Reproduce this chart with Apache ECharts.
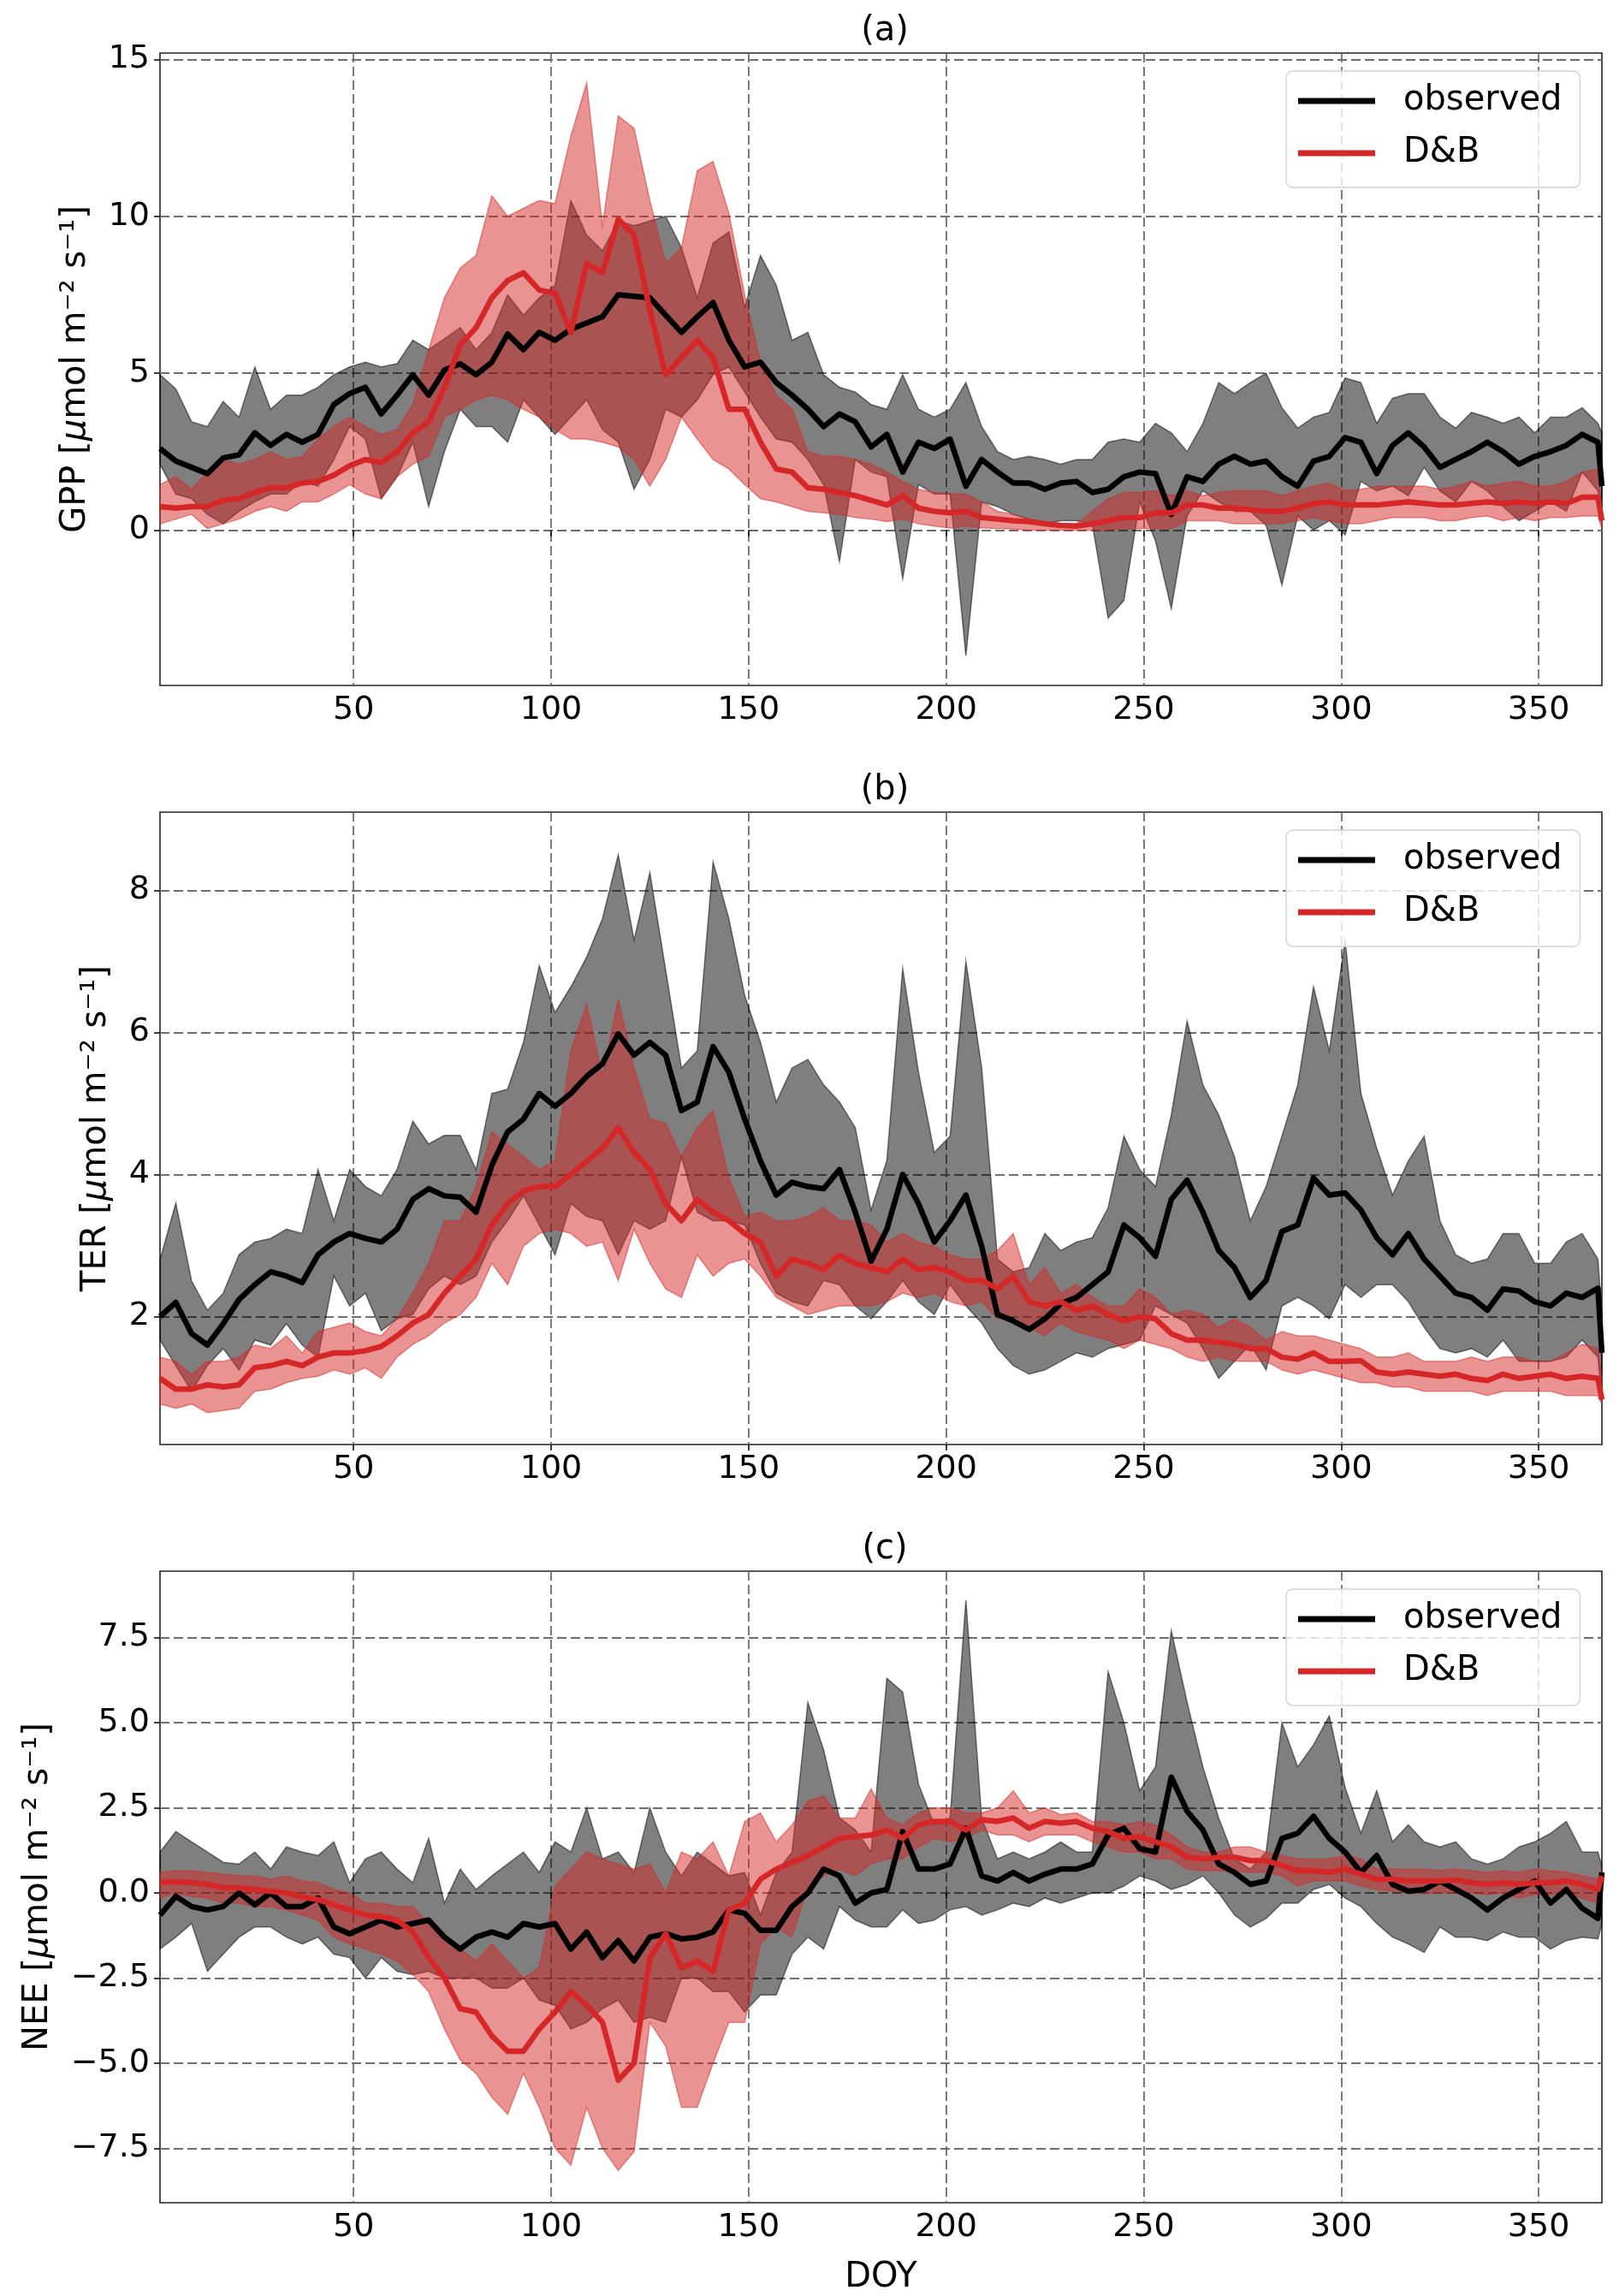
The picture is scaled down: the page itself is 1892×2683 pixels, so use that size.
<!DOCTYPE html>
<html>
<head>
<meta charset="utf-8">
<script src="https://cdn.jsdelivr.net/npm/echarts@6/dist/echarts.min.js"></script>
<style>
html, body { margin: 0; padding: 0; background: #fff; }
#chart { width: 1892px; height: 2683px; }
</style>
</head>
<body>
<div id="chart"></div>
<script>
// day of year (sampled every 4 days)
var doy = [1, 5, 9, 13, 17, 21, 25, 29, 33, 37,
    41, 45, 49, 53, 57, 61, 65, 69, 73, 77,
    81, 85, 89, 93, 97, 101, 105, 109, 113, 117,
    121, 125, 129, 133, 137, 141, 145, 149, 153, 157,
    161, 165, 169, 173, 177, 181, 185, 189, 193, 197,
    201, 205, 209, 213, 217, 221, 225, 229, 233, 237,
    241, 245, 249, 253, 257, 261, 265, 269, 273, 277,
    281, 285, 289, 293, 297, 301, 305, 309, 313, 317,
    321, 325, 329, 333, 337, 341, 345, 349, 353, 357,
    361, 365, 366];

// (a) GPP
var gppObs = [2.6, 2.2, 2.0, 1.8, 2.3, 2.4, 3.1, 2.7, 3.05, 2.8,
    3.05, 4.0, 4.35, 4.55, 3.7, 4.3, 4.95, 4.3, 5.1, 5.3,
    4.95, 5.35, 6.25, 5.75, 6.3, 6.05, 6.4, 6.6, 6.8, 7.5,
    7.45, 7.4, 6.85, 6.3, 6.8, 7.25, 6.05, 5.2, 5.35, 4.7,
    4.3, 3.85, 3.3, 3.7, 3.45, 2.65, 3.05, 1.85, 2.8, 2.6,
    2.9, 1.4, 2.25, 1.85, 1.5, 1.5, 1.3, 1.5, 1.55, 1.2,
    1.3, 1.7, 1.85, 1.8, 0.5, 1.7, 1.55, 2.1, 2.35, 2.1,
    2.2, 1.7, 1.4, 2.2, 2.35, 2.95, 2.8, 1.8, 2.7, 3.1,
    2.65, 2.0, 2.25, 2.5, 2.8, 2.5, 2.1, 2.35, 2.5, 2.7,
    3.05, 2.8, 1.4];
var gppObsHi = [4.95, 4.5, 3.45, 3.3, 4.1, 3.6, 5.2, 3.85, 4.3, 4.3,
    4.55, 4.95, 5.2, 5.35, 5.2, 5.3, 6.05, 5.75, 6.1, 6.45,
    5.75, 6.3, 7.5, 6.85, 7.4, 7.8, 10.5, 9.4, 8.9, 9.85,
    9.7, 9.85, 10.0, 9.0, 7.4, 9.15, 9.5, 7.1, 8.75, 7.8,
    6.05, 6.3, 4.95, 4.55, 4.4, 4.0, 3.85, 4.95, 3.85, 3.6,
    3.85, 4.7, 3.3, 2.5, 2.25, 2.35, 2.25, 2.1, 2.25, 2.25,
    2.8, 2.9, 2.8, 3.4, 3.1, 2.5, 3.4, 4.7, 4.35, 4.7,
    5.0, 3.9, 3.25, 3.6, 3.75, 4.85, 4.7, 3.4, 4.2, 4.35,
    4.35, 3.6, 3.25, 3.75, 3.6, 3.4, 3.6, 3.1, 3.6, 3.6,
    3.9, 3.4, 3.1];
var gppObsLo = [2.1, 1.15, 1.0, 0.5, 0.2, 0.6, 0.9, 1.15, 1.15, 1.55,
    1.4, 2.25, 3.3, 2.9, 1.0, 1.7, 2.8, 0.75, 2.5, 3.85,
    3.3, 3.3, 2.8, 4.15, 3.6, 3.05, 3.6, 4.15, 3.2, 2.8,
    1.3, 2.25, 3.85, 3.6, 4.15, 4.95, 5.2, 4.4, 3.6, 2.9,
    2.8, 2.25, 1.45, -1.0, 2.25, 1.85, 1.7, -1.55, 1.45, 1.15,
    1.15, -4.0, 0.9, 0.75, 0.5, 0.35, 0.2, 0.3, 0.3, 0.2,
    -2.8, -2.25, 0.9, -0.35, -2.5, 0.45, 1.25, 0.9, 0.6, 0.6,
    0.15, -1.75, 0.45, 0.0, 0.3, -0.15, 1.55, 1.25, 1.4, 1.1,
    2.0, 1.25, 0.9, 1.55, 1.25, 0.75, 0.3, 0.6, 0.9, 0.6,
    1.85, 1.25, 0.3];
var gppDB = [0.75, 0.7, 0.75, 0.75, 0.95, 1.0, 1.2, 1.35, 1.35, 1.5,
    1.55, 1.75, 2.05, 2.25, 2.15, 2.5, 3.1, 3.45, 4.55, 5.9,
    6.45, 7.4, 7.95, 8.2, 7.65, 7.55, 6.3, 8.5, 8.2, 9.9,
    9.4, 7.0, 4.95, 5.5, 6.05, 5.5, 3.85, 3.85, 2.8, 1.95,
    1.85, 1.35, 1.3, 1.2, 1.1, 0.95, 0.8, 1.1, 0.7, 0.6,
    0.55, 0.6, 0.4, 0.35, 0.3, 0.27, 0.2, 0.15, 0.13, 0.2,
    0.3, 0.4, 0.4, 0.55, 0.55, 0.8, 0.8, 0.7, 0.7, 0.65,
    0.6, 0.6, 0.7, 0.85, 0.9, 0.8, 0.8, 0.8, 0.85, 0.9,
    0.85, 0.8, 0.8, 0.85, 0.9, 0.85, 0.9, 0.85, 0.9, 0.85,
    1.05, 1.05, 0.3];
var gppDBHi = [1.45, 1.7, 1.3, 1.85, 2.25, 2.1, 2.25, 2.5, 2.25, 2.35,
    2.9, 3.3, 3.6, 3.3, 3.05, 3.2, 4.0, 5.75, 7.4, 8.35,
    8.75, 10.65, 10.0, 10.25, 10.5, 10.4, 12.55, 14.25, 9.7, 13.2,
    12.8, 10.5, 8.5, 9.0, 11.45, 11.75, 10.1, 7.5, 5.35, 4.3,
    3.85, 2.5, 2.35, 2.35, 2.25, 2.1, 1.85, 1.55, 1.3, 1.2,
    1.15, 1.15, 0.9, 0.6, 0.5, 0.35, 0.27, 0.2, 0.2, 0.6,
    1.0, 1.2, 1.2, 1.25, 1.1, 1.25, 1.1, 1.2, 1.25, 1.25,
    1.25, 1.1, 1.25, 1.4, 1.5, 1.25, 1.3, 1.4, 1.4, 1.4,
    1.4, 1.3, 1.4, 1.55, 1.4, 1.5, 1.55, 1.4, 1.4, 1.55,
    1.85, 1.95, 0.6];
var gppDBLo = [0.2, 0.35, 0.5, 0.05, 0.2, 0.35, 0.6, 0.75, 0.6, 0.9,
    0.9, 1.15, 1.45, 1.15, 1.0, 1.7, 2.1, 2.35, 3.6, 3.85,
    4.15, 4.3, 4.15, 3.85, 3.6, 3.2, 2.9, 2.9, 2.8, 2.65,
    2.25, 1.4, 2.25, 3.6, 2.9, 2.25, 1.95, 1.45, 1.0, 0.9,
    0.75, 0.6, 0.55, 0.5, 0.4, 0.35, 0.27, 0.35, 0.2, 0.13,
    0.07, 0.13, 0.07, 0.05, 0.03, 0.0, 0.0, 0.0, 0.0, 0.0,
    0.0, 0.05, 0.05, 0.05, 0.05, 0.3, 0.3, 0.3, 0.2, 0.2,
    0.2, 0.2, 0.3, 0.4, 0.3, 0.2, 0.2, 0.3, 0.4, 0.4,
    0.4, 0.3, 0.3, 0.4, 0.45, 0.3, 0.4, 0.3, 0.4, 0.4,
    0.45, 0.45, 0.05];

// (b) TER
var terObs = [2.0, 2.2, 1.76, 1.6, 1.9, 2.24, 2.45, 2.63, 2.57, 2.48,
    2.87, 3.05, 3.17, 3.1, 3.05, 3.23, 3.65, 3.8, 3.7, 3.68,
    3.47, 4.13, 4.6, 4.78, 5.14, 4.96, 5.14, 5.38, 5.56, 5.98,
    5.68, 5.86, 5.68, 4.9, 5.02, 5.8, 5.44, 4.78, 4.19, 3.71,
    3.89, 3.83, 3.8, 4.07, 3.47, 2.78, 3.23, 4.0, 3.59, 3.05,
    3.35, 3.71, 2.99, 2.03, 1.94, 1.82, 1.97, 2.18, 2.27, 2.45,
    2.63, 3.29, 3.11, 2.85, 3.65, 3.92, 3.47, 2.93, 2.69, 2.27,
    2.51, 3.2, 3.29, 3.95, 3.71, 3.74, 3.5, 3.11, 2.87, 3.17,
    2.81, 2.57, 2.33, 2.27, 2.09, 2.39, 2.36, 2.21, 2.15, 2.33,
    2.27, 2.4, 1.49];
var terObsHi = [2.8, 3.6, 2.5, 2.09, 2.33, 2.87, 3.05, 3.1, 3.23, 3.17,
    4.07, 3.35, 4.07, 3.83, 3.7, 4.07, 4.75, 4.43, 4.55, 4.55,
    4.07, 5.14, 5.2, 5.86, 6.94, 6.28, 6.64, 7.06, 7.6, 8.5,
    7.3, 8.25, 6.88, 5.5, 5.74, 8.4, 7.6, 6.52, 5.86, 5.02,
    5.5, 5.62, 5.26, 5.02, 4.66, 3.5, 4.2, 6.9, 5.44, 4.31,
    4.54, 7.0, 5.5, 2.81, 2.63, 2.69, 3.17, 2.93, 3.05, 3.11,
    3.53, 4.54, 4.07, 3.83, 4.84, 6.16, 5.26, 4.84, 4.25, 3.35,
    3.83, 4.54, 5.26, 6.64, 5.74, 7.3, 5.14, 4.37, 3.71, 4.19,
    4.54, 3.35, 2.87, 2.75, 2.81, 3.17, 3.17, 2.75, 2.75, 3.05,
    3.17, 2.81, 2.03];
var terObsLo = [1.67, 1.31, 0.95, 1.31, 1.55, 1.25, 1.67, 1.6, 1.9, 1.6,
    1.43, 2.57, 2.15, 2.33, 1.8, 1.97, 2.03, 2.39, 2.57, 2.45,
    2.57, 3.05, 3.35, 3.7, 3.29, 2.87, 3.59, 3.41, 3.35, 2.87,
    3.35, 3.23, 3.35, 4.25, 3.47, 3.35, 3.35, 3.29, 2.75, 2.33,
    2.21, 2.15, 2.51, 2.45, 2.15, 1.97, 2.21, 2.51, 2.21, 2.03,
    2.45, 2.15, 1.91, 1.55, 1.31, 1.19, 1.25, 1.37, 1.49, 1.43,
    1.55, 1.61, 1.67, 2.15, 2.03, 1.91, 1.55, 1.13, 1.37, 1.61,
    1.25, 2.15, 2.27, 2.15, 1.97, 2.45, 2.27, 2.45, 2.45, 2.21,
    1.85, 1.55, 1.49, 1.55, 1.43, 1.67, 1.37, 1.37, 1.37, 1.43,
    1.67, 1.43, 0.83];
var terDB = [1.13, 0.98, 0.98, 1.04, 1.01, 1.04, 1.28, 1.31, 1.37, 1.31,
    1.43, 1.49, 1.49, 1.52, 1.58, 1.73, 1.91, 2.03, 2.33, 2.57,
    2.81, 3.29, 3.59, 3.77, 3.83, 3.83, 4.0, 4.19, 4.37, 4.66,
    4.31, 4.07, 3.59, 3.35, 3.65, 3.47, 3.35, 3.17, 3.05, 2.57,
    2.81, 2.75, 2.66, 2.87, 2.75, 2.69, 2.63, 2.81, 2.66, 2.69,
    2.63, 2.51, 2.51, 2.39, 2.57, 2.21, 2.15, 2.21, 2.09, 2.15,
    2.03, 1.94, 2.0, 1.97, 1.76, 1.67, 1.67, 1.64, 1.61, 1.55,
    1.55, 1.43, 1.4, 1.49, 1.37, 1.37, 1.38, 1.22, 1.19, 1.22,
    1.19, 1.16, 1.19, 1.13, 1.1, 1.19, 1.13, 1.16, 1.19, 1.13,
    1.16, 1.13, 0.83];
var terDBHi = [1.43, 1.37, 1.19, 1.37, 1.37, 1.43, 1.6, 1.55, 1.73, 1.49,
    1.79, 1.85, 1.91, 1.79, 1.73, 1.97, 2.33, 2.75, 3.35, 3.35,
    3.83, 4.6, 4.43, 4.25, 4.07, 4.19, 5.74, 6.4, 5.38, 6.46,
    5.5, 4.78, 4.72, 4.25, 4.66, 4.9, 3.95, 3.41, 3.47, 3.35,
    3.35, 3.41, 3.53, 3.35, 3.35, 3.29, 3.05, 3.17, 3.05, 2.99,
    2.87, 2.81, 2.81, 2.93, 3.17, 2.45, 2.69, 2.33, 2.45, 2.27,
    2.15, 2.15, 2.39, 2.27, 2.03, 2.09, 2.03, 1.85, 1.97, 1.85,
    1.67, 1.79, 1.73, 1.73, 1.67, 1.61, 1.55, 1.43, 1.43, 1.49,
    1.37, 1.37, 1.37, 1.43, 1.37, 1.43, 1.43, 1.37, 1.37, 1.49,
    1.61, 1.55, 1.13];
var terDBLo = [0.77, 0.71, 0.77, 0.65, 0.68, 0.71, 0.95, 0.98, 1.07, 1.13,
    1.16, 1.25, 1.19, 1.28, 1.13, 1.43, 1.61, 1.73, 1.91, 2.03,
    2.27, 2.75, 2.45, 2.99, 3.17, 3.23, 3.17, 2.99, 3.05, 2.51,
    3.23, 2.75, 2.39, 2.27, 2.87, 2.57, 2.75, 2.81, 2.57, 2.27,
    2.15, 2.03, 2.09, 2.15, 2.15, 2.15, 2.21, 2.33, 2.27, 2.33,
    2.21, 2.15, 2.21, 1.97, 2.03, 1.85, 1.73, 1.91, 1.79, 1.73,
    1.67, 1.55, 1.67, 1.61, 1.55, 1.43, 1.37, 1.43, 1.37, 1.37,
    1.37, 1.25, 1.19, 1.25, 1.19, 1.13, 1.07, 1.07, 1.01, 1.01,
    0.95, 0.95, 0.95, 0.95, 0.89, 0.95, 0.95, 0.95, 0.95, 0.89,
    0.89, 0.89, 0.77];

// (c) NEE
var neeObs = [-0.65, -0.1, -0.4, -0.5, -0.4, 0.0, -0.35, 0.0, -0.4, -0.4,
    -0.15, -1.0, -1.2, -1.0, -0.8, -1.0, -0.9, -0.8, -1.3, -1.65,
    -1.3, -1.15, -1.3, -0.9, -1.0, -0.9, -1.65, -1.15, -1.9, -1.4,
    -2.0, -1.3, -1.2, -1.35, -1.3, -1.15, -0.5, -0.6, -1.1, -1.1,
    -0.4, 0.0, 0.7, 0.5, -0.3, 0.0, 0.1, 1.8, 0.7, 0.7,
    0.85, 1.9, 0.5, 0.35, 0.6, 0.35, 0.55, 0.7, 0.7, 0.85,
    1.7, 1.9, 1.3, 1.2, 3.4, 2.4, 1.85, 0.85, 0.6, 0.25,
    0.35, 1.6, 1.75, 2.25, 1.6, 1.2, 0.6, 1.1, 0.25, 0.05,
    0.1, 0.35, 0.1, -0.15, -0.5, -0.15, 0.1, 0.35, -0.3, 0.1,
    -0.45, -0.75, 0.6];
var neeObsHi = [1.2, 1.8, 1.5, 1.2, 0.9, 0.85, 1.2, 0.7, 1.35, 1.2,
    1.1, 1.5, 0.3, 1.0, 1.2, 0.7, 0.3, 1.6, -0.3, 0.7,
    0.1, 0.5, 0.85, 1.2, 0.6, 1.5, 1.2, 2.5, 1.0, 1.2,
    0.6, 2.5, 1.2, 0.5, 1.2, 0.85, 0.5, 0.6, -0.65, 0.6,
    1.2, 5.6, 4.2, 2.2, 1.85, 1.2, 6.3, 5.9, 3.2, 2.0,
    2.2, 8.6, 2.2, 1.0, 1.2, 1.0, 1.2, 1.5, 1.2, 1.2,
    6.5, 5.0, 3.0, 3.7, 7.7, 5.6, 3.7, 2.2, 1.0, 0.7,
    1.2, 5.0, 3.7, 4.35, 5.2, 3.1, 1.75, 3.0, 1.5, 2.0,
    1.5, 1.35, 1.5, 1.0, 0.85, 1.0, 1.35, 1.5, 1.75, 2.1,
    1.2, 1.2, 0.8];
var neeObsLo = [-1.65, -1.3, -0.9, -2.3, -1.8, -1.3, -1.0, -1.0, -1.3, -1.5,
    -1.3, -1.8, -1.9, -2.5, -1.9, -2.3, -2.4, -2.3, -2.5, -2.5,
    -2.5, -2.8, -2.8, -2.5, -3.15, -3.3, -4.0, -3.8, -3.4, -3.15,
    -3.8, -3.65, -3.8, -2.5, -2.5, -2.9, -2.9, -3.5, -3.0, -3.0,
    -1.8, -1.3, -1.65, -0.4, -0.8, -1.0, -1.0, -0.5, -0.9, -0.8,
    -0.5, -0.4, -0.65, -0.5, -0.3, -0.4, -0.15, -0.3, -0.15, 0.0,
    0.0, 0.2, 0.5, 0.35, 0.1, 0.25, 0.5, 0.0, -0.65, -1.0,
    -0.75, -0.3, -0.3, 0.1, 0.25, -0.15, -0.4, -0.9, -1.3, -1.5,
    -1.75, -1.0, -1.3, -1.3, -1.4, -1.15, -1.3, -1.3, -1.65, -1.4,
    -1.3, -1.35, -0.9];
var neeDB = [0.3, 0.33, 0.3, 0.25, 0.15, 0.15, 0.1, 0.05, 0.0, -0.12,
    -0.2, -0.35, -0.5, -0.65, -0.7, -0.8, -1.15, -1.9, -2.5, -3.4,
    -3.5, -4.2, -4.65, -4.65, -4.0, -3.5, -2.9, -3.3, -3.8, -5.5,
    -5.0, -1.9, -1.2, -2.2, -2.0, -2.3, -0.5, -0.3, 0.4, 0.7,
    0.9, 1.1, 1.35, 1.6, 1.65, 1.7, 1.85, 1.6, 2.0, 2.1,
    2.1, 1.85, 2.15, 2.1, 2.2, 1.9, 2.1, 2.05, 2.1, 1.9,
    1.8, 1.6, 1.65, 1.5, 1.35, 1.05, 1.0, 1.05, 1.05, 0.95,
    0.95, 0.8, 0.65, 0.65, 0.6, 0.7, 0.55, 0.4, 0.4, 0.35,
    0.35, 0.35, 0.38, 0.3, 0.25, 0.3, 0.25, 0.3, 0.3, 0.35,
    0.25, 0.1, 0.5];
var neeDBHi = [0.6, 0.65, 0.65, 0.6, 0.55, 0.5, 0.5, 0.4, 0.5, 0.35,
    0.3, 0.1, 0.0, -0.3, -0.3, -0.4, -0.4, -0.9, -1.3, -1.65,
    -2.0, -1.5, -2.0, -2.5, -2.2, 0.2, 0.7, 1.2, 1.0, 0.85,
    0.7, 0.85, 0.0, 1.2, 1.0, 1.5, 0.5, 2.1, 2.35, 1.5,
    2.0, 2.7, 2.85, 2.2, 2.2, 3.05, 2.2, 2.0, 2.35, 2.5,
    2.5, 2.35, 2.35, 2.5, 3.0, 2.35, 2.5, 2.3, 2.35, 2.1,
    2.1, 2.0, 2.1, 2.0, 1.7, 1.35, 1.2, 1.2, 1.35, 1.35,
    1.2, 1.1, 1.0, 1.0, 1.0, 1.1, 1.0, 0.7, 0.7, 0.7,
    0.7, 0.65, 0.7, 0.65, 0.6, 0.65, 0.6, 0.7, 0.65, 0.6,
    0.5, 0.4, 0.7];
var neeDBLo = [-0.15, 0.0, -0.1, -0.15, -0.3, -0.3, -0.4, -0.4, -0.5, -0.65,
    -0.8, -1.3, -1.5, -1.65, -1.8, -2.0, -2.4, -2.9, -4.0, -4.9,
    -5.3, -6.0, -6.5, -5.3, -6.3, -7.5, -8.0, -6.3, -7.5, -8.15,
    -7.6, -3.8, -4.5, -6.3, -6.3, -5.0, -3.8, -3.8, -1.5, -1.0,
    -1.3, 0.2, 0.5, 0.7, 0.5, 0.85, 1.0, 1.0, 1.35, 1.6,
    1.5, 1.6, 1.85, 1.7, 1.7, 1.5, 1.7, 1.7, 1.7, 1.5,
    1.35, 1.2, 1.2, 1.0, 1.0, 0.7, 0.65, 0.65, 0.65, 0.6,
    0.6, 0.5, 0.2, 0.35, 0.35, 0.35, 0.2, 0.1, 0.05, 0.0,
    0.0, 0.0, 0.0, 0.0, -0.05, 0.0, -0.15, -0.05, -0.05, 0.0,
    -0.15, -0.3, 0.1];

// tick values
var xTicks = [50, 100, 150, 200, 250, 300, 350];
var gppTicks = [0, 5, 10, 15];
var terTicks = [2, 4, 6, 8];
var neeTicks = [-7.5, -5, -2.5, 0, 2.5, 5, 7.5];

var FONT = 'DejaVu Sans';
var OBS_FILL = 'rgba(0,0,0,0.5)';
var DB_FILL = 'rgba(214,39,40,0.5)';
var DB_LINE = '#d62728';

var panels = [
    {top: 62, title: '(a)', label: 'GPP', min: -4.95, max: 15.2, ticks: gppTicks, gap: 78,
        fmt: function (v) { return String(v); },
        obs: gppObs, obsLo: gppObsLo, obsHi: gppObsHi, db: gppDB, dbLo: gppDBLo, dbHi: gppDBHi},
    {top: 949, title: '(b)', label: 'TER', min: 0.2, max: 9.1, ticks: terTicks, gap: 54,
        fmt: function (v) { return String(v); },
        obs: terObs, obsLo: terObsLo, obsHi: terObsHi, db: terDB, dbLo: terDBLo, dbHi: terDBHi},
    {top: 1836, title: '(c)', label: 'NEE', min: -9.1, max: 9.45, ticks: neeTicks, gap: 122,
        fmt: function (v) { return v.toFixed(1).replace('-', '\u2212'); },
        obs: neeObs, obsLo: neeObsLo, obsHi: neeObsHi, db: neeDB, dbLo: neeDBLo, dbHi: neeDBHi}
];

// filled band between lo and hi, drawn as one polygon through the axis scales
function band(idx, lo, hi, color) {
    return {
        type: 'custom',
        xAxisIndex: idx,
        yAxisIndex: idx,
        silent: true,
        z: 2,
        data: doy.map(function (d, i) { return [d, lo[i], hi[i]]; }),
        encode: {x: 0, y: [1, 2]},
        renderItem: function (params, api) {
            if (params.dataIndex !== 0) return null;
            var pts = [];
            for (var i = 0; i < doy.length; i++) pts.push(api.coord([doy[i], hi[i]]));
            for (var j = doy.length - 1; j >= 0; j--) pts.push(api.coord([doy[j], lo[j]]));
            return {
                type: 'polygon',
                shape: {points: pts},
                style: {fill: color, stroke: color, lineWidth: 1.5}
            };
        }
    };
}

function line(idx, name, vals, color) {
    return {
        type: 'line',
        name: name,
        xAxisIndex: idx,
        yAxisIndex: idx,
        silent: true,
        z: 3,
        showSymbol: false,
        symbol: 'none',
        data: doy.map(function (d, i) { return [d, vals[i]]; }),
        lineStyle: {color: color, width: 6.5, join: 'round'},
        itemStyle: {color: color}
    };
}

var gridLine = {show: true, lineStyle: {color: '#6e6e6e', width: 1.8, type: [11, 5]}};

var option = {
    animation: false,
    backgroundColor: '#fff',
    textStyle: {fontFamily: FONT},
    title: [], legend: [], grid: [], xAxis: [], yAxis: [], series: []
};

panels.forEach(function (p, i) {
    option.title.push({
        text: p.title, left: 1029, top: p.top - 50, textAlign: 'center',
        textStyle: {fontFamily: FONT, fontSize: 40, fontWeight: 'normal', color: '#000'}
    });
    option.grid.push({
        left: 187, right: 20, top: p.top, height: 739,
        show: true, borderColor: '#222', borderWidth: 1.6, backgroundColor: 'transparent'
    });
    option.xAxis.push({
        type: 'value', gridIndex: i, min: 1, max: 366,
        name: i === 2 ? 'DOY' : '', nameLocation: 'middle', nameGap: 68,
        nameTextStyle: {fontFamily: FONT, fontSize: 40, color: '#000'},
        axisLine: {show: false},
        axisTick: {show: true, customValues: xTicks, length: 7, lineStyle: {color: '#000', width: 1.5}},
        axisLabel: {customValues: xTicks, fontFamily: FONT, fontSize: 38, color: '#000', margin: 10},
        splitLine: gridLine
    });
    option.yAxis.push({
        type: 'value', gridIndex: i, min: p.min, max: p.max,
        name: p.label + ' [{mu|\u03bc}mol m\u207b\u00b2 s\u207b\u00b9]',
        nameLocation: 'middle', nameRotate: 90, nameGap: p.gap,
        nameTextStyle: {
            fontFamily: FONT, fontSize: 40, color: '#000',
            rich: {mu: {fontFamily: FONT, fontSize: 40, fontStyle: 'italic', color: '#000'}}
        },
        axisLine: {show: false},
        axisTick: {show: true, customValues: p.ticks, length: 7, lineStyle: {color: '#000', width: 1.5}},
        axisLabel: {customValues: p.ticks, formatter: p.fmt, fontFamily: FONT, fontSize: 38, color: '#000', margin: 12},
        splitLine: gridLine
    });
    option.legend.push({
        left: 1503, top: p.top + 21, orient: 'vertical',
        data: ['observed', 'D&B'], selectedMode: false,
        icon: 'rect', itemWidth: 90, itemHeight: 7, itemGap: 15,
        padding: [12, 21, 17, 14],
        backgroundColor: 'rgba(255,255,255,0.8)',
        borderColor: '#d4d4d4', borderWidth: 1.5, borderRadius: 8,
        textStyle: {fontFamily: FONT, fontSize: 40, lineHeight: 46, color: '#000', padding: [0, 0, 0, 28]}
    });
    option.series.push(band(i, p.obsLo, p.obsHi, OBS_FILL));
    option.series.push(band(i, p.dbLo, p.dbHi, DB_FILL));
    option.series.push(line(i, 'observed', p.obs, '#000'));
    option.series.push(line(i, 'D&B', p.db, DB_LINE));
});

var chart = echarts.init(document.getElementById('chart'), null, {renderer: 'canvas'});
chart.setOption(option);
</script>
</body>
</html>
